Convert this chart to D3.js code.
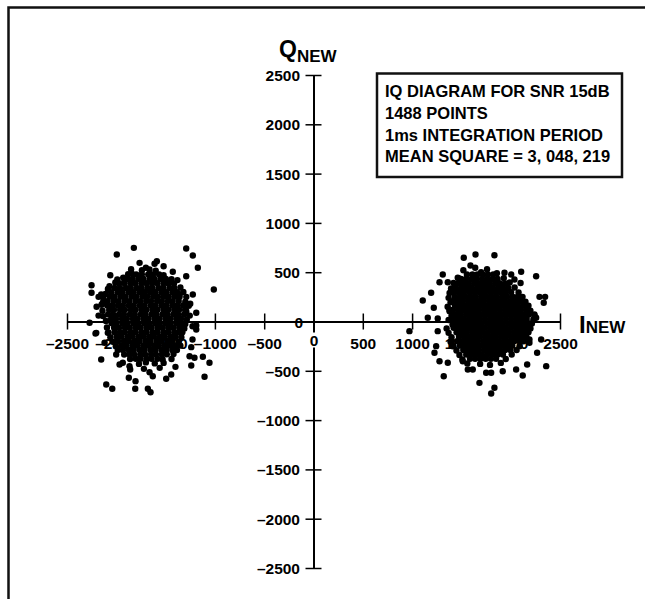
<!DOCTYPE html>
<html>
<head>
<meta charset="utf-8">
<style>
  body { margin: 0; background: #fff; overflow: hidden; }
  svg { display: block; }
  svg text { font-family: "Liberation Sans", Arial, sans-serif; font-weight: bold; }
</style>
</head>
<body>
<div id="container"></div>
<script src="https://cdn.jsdelivr.net/npm/d3@7"></script>
<script>

  // chart size
  const width = 645;
  const height = 599;

  // tick values, both axes
  const tickValues = [-2500, -2000, -1500, -1000, -500, 0, 500, 1000, 1500, 2000, 2500];

  const infoLines = [
    "IQ DIAGRAM FOR SNR 15dB",
    "1488 POINTS",
    "1ms INTEGRATION PERIOD",
    "MEAN SQUARE = 3, 048, 219"
  ];

  // dense core of the left cluster, read row by row  "Q: I I I ..."
  const leftCore = [
    "478: -1798 -1741 -1676 -1628 -1566",
    "432: -1886 -1833 -1772 -1724 -1661 -1613 -1552 -1497",
    "388: -1971 -1918 -1857 -1808 -1746 -1694 -1637 -1583 -1521 -1474",
    "341: -2017 -1963 -1902 -1853 -1791 -1742 -1681 -1633 -1571 -1524 -1461 -1413",
    "297: -2053 -1988 -1938 -1876 -1828 -1766 -1714 -1657 -1603 -1541 -1493 -1431 -1383",
    "252: -2066 -2018 -1957 -1908 -1846 -1798 -1736 -1688 -1626 -1578 -1517 -1468 -1406 -1358",
    "207: -2088 -2027 -1978 -1916 -1868 -1806 -1758 -1697 -1648 -1586 -1538 -1476 -1428 -1367",
    "163: -2092 -2043 -1982 -1933 -1871 -1823 -1761 -1713 -1651 -1603 -1542 -1493 -1432 -1383 -1322",
    "118: -2072 -2023 -1961 -1913 -1852 -1803 -1742 -1693 -1632 -1583 -1521 -1473 -1412 -1363 -1302",
    "72: -2083 -2033 -1972 -1923 -1862 -1813 -1752 -1703 -1642 -1593 -1532 -1483 -1422 -1373 -1312",
    "27: -2052 -2003 -1942 -1893 -1832 -1783 -1722 -1673 -1612 -1563 -1502 -1453 -1392 -1343",
    "-18: -2047 -1998 -1937 -1888 -1827 -1778 -1717 -1668 -1607 -1558 -1497 -1448 -1387 -1338",
    "-63: -2022 -1973 -1912 -1863 -1802 -1753 -1692 -1643 -1582 -1533 -1472 -1423 -1362",
    "-108: -2018 -1962 -1913 -1852 -1803 -1742 -1693 -1632 -1583 -1522 -1473 -1412 -1363",
    "-153: -1997 -1948 -1887 -1838 -1777 -1728 -1667 -1618 -1557 -1508 -1447 -1398",
    "-198: -1983 -1922 -1873 -1812 -1763 -1702 -1653 -1592 -1543 -1482 -1433",
    "-243: -1947 -1898 -1837 -1788 -1727 -1678 -1617 -1568 -1507 -1458 -1397",
    "-288: -1933 -1872 -1823 -1762 -1713 -1652 -1603 -1542 -1493 -1432",
    "-333: -1867 -1818 -1757 -1708 -1647 -1598 -1537 -1488",
    "-378: -1802 -1753 -1692 -1643 -1582"
  ];

  // ragged edge of the left core [I, Q]
  const leftHalo = [
    [-1850, 530], [-1700, 545], [-1600, 515], [-1520, 470], [-1440, 430], [-1930, 445],
    [-2010, 395], [-1415, 385], [-2085, 330], [-1350, 345], [-2110, 280], [-1320, 300],
    [-1290, 250], [-2130, 230], [-2150, 170], [-1300, 200], [-1265, 160], [-2140, 110],
    [-1290, 105], [-1255, 60], [-2135, 55], [-2105, 5], [-1285, 20], [-1300, -25],
    [-2095, -60], [-1310, -70], [-2080, -110], [-1330, -110], [-1340, -160], [-2060, -160],
    [-2035, -205], [-1370, -205], [-2005, -250], [-1350, -245], [-1385, -290], [-1985, -290],
    [-1920, -335], [-1420, -330], [-1440, -380], [-1860, -380], [-1530, -385], [-1700, -415],
    [-1770, -430], [-1610, -425], [-1520, -420], [-1650, 470], [-1880, 480], [-2180, 250]
  ];

  // scattered points round the left cluster [I, Q]
  const leftOuter = [
    [-1822, 747], [-1995, 679], [-1291, 740], [-1224, 669], [-1173, 545], [-1011, 325],
    [-2251, 368], [-2251, 291], [-2061, 469], [-1764, 595], [-1612, 585], [-1589, 611],
    [-1663, 527], [-1842, 484], [-1990, 426], [-1916, 416], [-1291, 459], [-1427, 504],
    [-1359, 274], [-1224, 274], [-1189, 88], [-2153, 274], [-2137, 190], [-2069, 358],
    [-2211, -122], [-2153, -385], [-2102, -639], [-2041, -682], [-1873, -571], [-1805, -605],
    [-1808, -682], [-1680, -682], [-1653, -717], [-1630, -555], [-1663, -514], [-1494, -581],
    [-1443, -537], [-1105, -560], [-1055, -419], [-1122, -358], [-1240, -446], [-1257, -352],
    [-1207, -368], [-1189, -41], [-1967, -436], [-1934, -419], [-1866, -453], [-1859, -487],
    [-2001, -335], [-2086, -115], [-2119, -216], [-2271, -13], [-2203, -115], [-1227, -48],
    [-1189, -81], [-1227, -183], [-1740, 520], [-1520, 560], [-1380, 420], [-2180, 60],
    [-2200, 150], [-1250, 180], [-1240, -260], [-1560, -470], [-1720, -480], [-1400, -460]
  ];

  // dense core of the right cluster
  const rightCore = [
    "477: 1556 1612 1661 1718 1769 1823",
    "431: 1497 1548 1604 1653 1709 1761 1816 1867",
    "386: 1468 1523 1576 1631 1683 1737 1788 1843 1894 1948",
    "341: 1443 1498 1552 1604 1659 1711 1764 1817 1871 1922 1976",
    "296: 1418 1473 1526 1581 1632 1688 1739 1793 1846 1899 1951 2004",
    "251: 1432 1486 1539 1593 1646 1701 1752 1806 1858 1913 1964 2018 2071",
    "206: 1407 1461 1513 1568 1621 1674 1727 1781 1833 1888 1941 1993 2046 2098",
    "161: 1436 1488 1543 1596 1648 1702 1756 1808 1861 1914 1968 2021 2073 2127",
    "116: 1411 1466 1518 1571 1626 1678 1731 1786 1838 1891 1944 1998 2051 2103 2157",
    "71: 1441 1493 1548 1601 1653 1707 1759 1813 1866 1918 1972 2026 2078 2131 2183",
    "26: 1418 1472 1526 1578 1632 1684 1738 1791 1843 1897 1951 2003 2056 2109 2162",
    "-19: 1443 1496 1549 1603 1656 1708 1762 1816 1868 1921 1974 2027 2081 2133 2186",
    "-64: 1421 1473 1527 1581 1633 1687 1739 1793 1846 1898 1952 2004 2058 2111 2163",
    "-109: 1451 1503 1556 1611 1663 1716 1769 1822 1876 1928 1981 2034 2087 2141",
    "-154: 1476 1529 1582 1636 1688 1742 1794 1848 1902 1953 2007 2059 2113",
    "-199: 1456 1508 1561 1614 1667 1721 1773 1827 1879 1933 1986 2039 2092",
    "-244: 1486 1538 1592 1645 1699 1751 1803 1857 1909 1962 2016",
    "-289: 1519 1573 1626 1678 1732 1784 1838 1891 1943 1997",
    "-334: 1549 1602 1656 1708 1762 1815 1868 1921",
    "-379: 1587 1639 1693 1746 1799 1852"
  ];

  // ragged edge of the right core [I, Q]
  const rightHalo = [
    [1520, 520], [1640, 545], [1760, 530], [1860, 490], [1470, 440], [1930, 440],
    [1990, 395], [1420, 390], [1395, 335], [2040, 345], [2080, 295], [1380, 290],
    [1370, 240], [2120, 250], [2150, 200], [1390, 195], [1360, 150], [2180, 160],
    [2200, 110], [1380, 105], [1400, 60], [2240, 65], [2230, 20], [1370, 15],
    [1410, -30], [2215, -20], [2200, -70], [1350, -70], [1370, -115], [2180, -110],
    [2160, -160], [1400, -160], [1390, -205], [2130, -200], [2090, -250], [1420, -250],
    [1450, -295], [2060, -290], [2010, -335], [1480, -340], [1510, -385], [1950, -380],
    [1900, -420], [1560, -425], [1690, -430], [1790, -440], [1700, 500], [2100, 390]
  ];

  // scattered points round the right cluster [I, Q]
  const rightOuter = [
    [1643, 679], [1524, 646], [1835, 672], [1592, 568], [1311, 477], [2258, 459],
    [1937, 494], [2005, 477], [2038, 426], [2106, 504], [1278, 398], [1362, 398],
    [1193, 291], [1108, 213], [1220, 139], [2292, 250], [2349, 250], [2335, 190],
    [2241, 71], [2258, 38], [1159, 38], [1260, 30], [1379, 122], [1463, 443],
    [1498, 324], [973, -98], [1260, -98], [1244, -250], [1227, -317], [1278, -403],
    [1362, -419], [1321, -555], [1683, -622], [1835, -672], [1802, -730], [1751, -520],
    [1802, -520], [1919, -504], [2055, -487], [2122, -548], [2167, -436], [2360, -453],
    [2268, -317], [2190, -216], [2190, -183], [2309, -183], [1565, -487], [1615, -487],
    [1514, -403], [1396, -200], [1412, -250]
  ];

  function rowsToPoints(rows) {
    const pts = [];
    rows.forEach(r => {
      const parts = r.split(":");
      const q = +parts[0];
      parts[1].trim().split(/\s+/).forEach(i => pts.push([+i, q]));
    });
    return pts;
  }

  const points = rowsToPoints(leftCore).concat(leftHalo, leftOuter,
      rowsToPoints(rightCore), rightHalo, rightOuter);

  const x = d3.scaleLinear().domain([-2500, 2500]).range([67, 560]);
  const y = d3.scaleLinear().domain([-2500, 2500]).range([568, 75]);

  const fmt = d => d < 0 ? "\u2013" + Math.abs(d) : String(d);

  const svg = d3.create("svg")
      .attr("width", width)
      .attr("height", height);

  // outer frame: only top and left edges fall inside the picture
  svg.append("path")
      .attr("d", "M8.5,620V7.5H660")
      .attr("fill", "none")
      .attr("stroke", "#111")
      .attr("stroke-width", 2.5);

  // y axis
  svg.append("g")
      .attr("transform", `translate(${x(0)},0)`)
      .call(d3.axisLeft(y).tickValues(tickValues).tickSizeInner(16).tickSizeOuter(0).tickFormat(fmt))
      .attr("font-size", 15.5)
      .call(g => g.select(".domain").attr("stroke-width", 2))
      .call(g => g.selectAll(".tick line").attr("x1", -8).attr("x2", 8).attr("stroke-width", 1.5))
      .call(g => g.selectAll(".tick text")
          .attr("x", d => d === 0 ? -10.5 : -13.5)
          .attr("dy", "0.36em"));

  // x axis
  svg.append("g")
      .attr("transform", `translate(0,${y(0)})`)
      .call(d3.axisBottom(x).tickValues(tickValues).tickSizeInner(16).tickSizeOuter(0).tickFormat(fmt))
      .attr("font-size", 15.5)
      .call(g => g.select(".domain").attr("stroke-width", 2))
      .call(g => g.selectAll(".tick line").attr("y1", -8).attr("y2", 8).attr("stroke-width", 1.5))
      .call(g => g.selectAll(".tick").filter(d => d === 0)
          .insert("rect", "text")
          .attr("x", -5).attr("y", 11).attr("width", 10).attr("height", 15)
          .attr("fill", "white"))
      .call(g => g.selectAll(".tick text")
          .attr("y", d => d === 0 ? 24 : 27)
          .attr("dy", null));

  // axis titles
  const qt = svg.append("text")
      .attr("x", 279)
      .attr("y", 57);
  qt.append("tspan").attr("font-size", 23).text("Q");
  qt.append("tspan").attr("font-size", 17).attr("dy", 5).text("NEW");

  const it = svg.append("text")
      .attr("x", 579)
      .attr("y", 333);
  it.append("tspan").attr("font-size", 24).text("I");
  it.append("tspan").attr("font-size", 17).text("NEW");

  // info box
  svg.append("rect")
      .attr("x", 377)
      .attr("y", 73.5)
      .attr("width", 245)
      .attr("height", 103.5)
      .attr("fill", "white")
      .attr("stroke", "#111")
      .attr("stroke-width", 2.5);

  svg.append("g")
      .selectAll("text")
      .data(infoLines)
      .join("text")
      .attr("x", 385)
      .attr("y", (d, i) => 97 + i * 21.8)
      .attr("font-size", 16.5)
      .text(d => d);

  // the IQ points
  svg.append("g")
      .selectAll("circle")
      .data(points)
      .join("circle")
      .attr("cx", d => x(d[0]))
      .attr("cy", d => y(d[1]))
      .attr("r", 3.2)
      .attr("fill", "black");

  container.append(svg.node());

</script>
</body>
</html>
